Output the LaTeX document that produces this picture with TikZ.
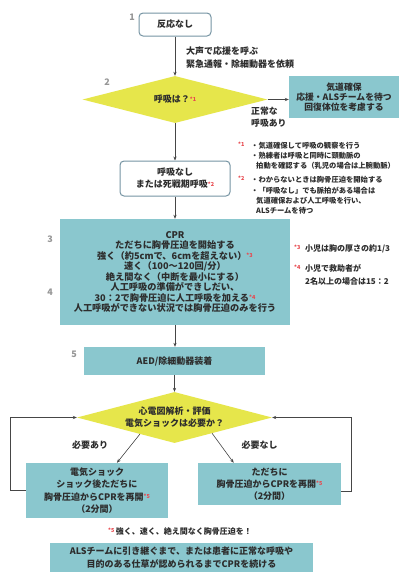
\documentclass[tikz,border=0pt]{standalone}
\usepackage{fontspec}
\setmainfont{Noto Sans CJK JP}
\usetikzlibrary{shapes.geometric,arrows.meta,calc}
\definecolor{tealfill}{RGB}{138,199,206}
\definecolor{yel}{RGB}{230,230,75}
\definecolor{rborder}{RGB}{118,148,163}
\definecolor{txt}{RGB}{45,45,45}
\definecolor{astc}{RGB}{232,72,78}
\definecolor{numc}{RGB}{150,150,150}
\definecolor{linec}{RGB}{70,70,70}
\newcommand{\redmark}[1]{\textcolor{astc}{\fontsize{5.5}{5.5}\selectfont\raisebox{1.8pt}{*#1}}}
\begin{document}
\begin{tikzpicture}[x=1pt,y=-1pt,
  every node/.style={text=txt, font=\bfseries\fontsize{9}{12}\selectfont},
  rbox/.style={draw=rborder, line width=1pt, rounded corners=4pt, fill=white, align=center, inner sep=0pt},
  tbox/.style={fill=tealfill, align=center, inner sep=0pt},
  dia/.style={diamond, fill=yel, inner sep=0pt, align=center},
  conn/.style={draw=linec, line width=0.6pt, -{Stealth[length=4pt,width=3.2pt]}},
  num/.style={text=numc, font=\bfseries\fontsize{9}{9}\selectfont, inner sep=0pt},
  fn/.style={anchor=west, font=\bfseries\fontsize{7.3}{8}\selectfont, inner sep=0pt},
  fnb/.style={anchor=west, font=\bfseries\fontsize{8}{9}\selectfont, inner sep=0pt},
  lab/.style={font=\bfseries\fontsize{9}{13}\selectfont, align=left, inner sep=0pt}
]
\useasboundingbox (0,0) rectangle (415,587);
\fill[white] (0,0) rectangle (415,587);

% step numbers
\node[num] (l1) at (132,17) {1};
\node[num] (l2) at (107,82) {2};
\node[num] (l3) at (50,239) {3};
\node[num] (l4) at (50,292) {4};
\node[num] (l5) at (74,354) {5};

% main nodes
\node[rbox, minimum width=72pt, minimum height=23pt] (n1) at (175,24.5) {反応なし};
\node[lab, anchor=west] (t1) at (186,57.5) {大声で応援を呼ぶ\\緊急通報・除細動器を依頼};
\node[dia, aspect=3.94, minimum width=185pt, minimum height=47pt] (d1) at (175,99.5) {呼吸は？\redmark{1}};
\node[tbox, minimum width=110pt, minimum height=42pt, font=\bfseries\fontsize{8.8}{10}\selectfont] (b1) at (344,97) {気道確保\\応援・ALSチームを待つ\\回復体位を考慮する};
\node[lab, anchor=west, font=\bfseries\fontsize{8.8}{12}\selectfont] (t2) at (251,117) {正常な\\呼吸あり};
\node[rbox, minimum width=110pt, minimum height=35pt] (n2) at (175,178.5) {呼吸なし\\または死戦期呼吸\redmark{2}};
\node[tbox, minimum width=230pt, minimum height=106pt, font=\bfseries\fontsize{9.2}{10.5}\selectfont] (cpr) at (175,272) {CPR\\ただちに胸骨圧迫を開始する\\強く（約5cmで、6cmを超えない）\redmark{3}\\速く（100〜120回/分）\\絶え間なく（中断を最小にする）\\人工呼吸の準備ができしだい、\\30：2で胸骨圧迫に人工呼吸を加える\redmark{4}\\人工呼吸ができない状況では胸骨圧迫のみを行う};
\node[tbox, minimum width=181pt, minimum height=28pt] (aed) at (174.5,361) {AED/除細動器装着};
\node[dia, aspect=3.82, minimum width=195pt, minimum height=51pt] (d2) at (174.5,417.5) {心電図解析・評価\\電気ショックは必要か？};
\node[lab] (t3) at (90,445) {必要あり};
\node[lab] (t4) at (259.5,445) {必要なし};
\node[tbox, minimum width=142pt, minimum height=55pt, font=\bfseries\fontsize{9}{12.3}\selectfont] (lb) at (97,490.5) {電気ショック\\ショック後ただちに\\胸骨圧迫からCPRを再開\redmark{5}\\（2分間）};
\node[tbox, minimum width=143pt, minimum height=42pt] (rb) at (269.5,484) {ただちに\\胸骨圧迫からCPRを再開\redmark{5}\\（2分間）};
\node[fnb, anchor=center] (f5) at (180,531) {\redmark{5}\,強く、速く、絶え間なく胸骨圧迫を！};
\node[tbox, minimum width=263pt, minimum height=29pt, font=\bfseries\fontsize{9}{13}\selectfont] (fin) at (181.5,557.5) {ALSチームに引き継ぐまで、または患者に正常な呼吸や\\目的のある仕草が認められるまでCPRを続ける};

% footnotes
\node[fn] (f1a) at (238,146) {\makebox[13pt][l]{\redmark{1}}・気道確保して呼吸の観察を行う};
\node[fn] (f1b) at (238,156) {\hspace*{13pt}・熟練者は呼吸と同時に頸動脈の};
\node[fn] (f1c) at (238,166) {\hspace*{18pt}拍動を確認する（乳児の場合は上腕動脈）};
\node[fn] (f2a) at (238,180) {\makebox[13pt][l]{\redmark{2}}・わからないときは胸骨圧迫を開始する};
\node[fn] (f2b) at (238,191) {\hspace*{13pt}・「呼吸なし」でも脈拍がある場合は};
\node[fn] (f2c) at (238,201) {\hspace*{18pt}気道確保および人工呼吸を行い、};
\node[fn] (f2d) at (238,211) {\hspace*{18pt}ALSチームを待つ};
\node[fnb] (f3) at (294,249) {\makebox[11pt][l]{\redmark{3}}小児は胸の厚さの約1/3};
\node[fnb] (f4a) at (294,268) {\makebox[11pt][l]{\redmark{4}}小児で救助者が};
\node[fnb] (f4b) at (294,281) {\hspace*{11pt}2名以上の場合は15：2};

% connectors
\draw[conn] (n1.south) -- (d1.north);
\draw[conn] (d1.east) -- (d1.east -| b1.west);
\draw[conn] (d1.south) -- (n2.north);
\draw[conn] (n2.south) -- (cpr.north);
\draw[conn] (cpr.south) -- (cpr.south |- aed.north);
\draw[conn] (aed.south) -- (d2.north);
\draw[conn] ($(d2.south)!0.354!(d2.west)$) -- ($(lb.north west)!0.64!(lb.north east)$);
\draw[conn] ($(d2.south)!0.385!(d2.east)$) -- ($(rb.north west)!0.25!(rb.north east)$);
\draw[conn] (lb.west) -- ++(-16,0) |- (d2.west);
\draw[conn] ([yshift=-7pt]rb.east) -- ++(10,0) |- (d2.east);
\end{tikzpicture}
\end{document}
